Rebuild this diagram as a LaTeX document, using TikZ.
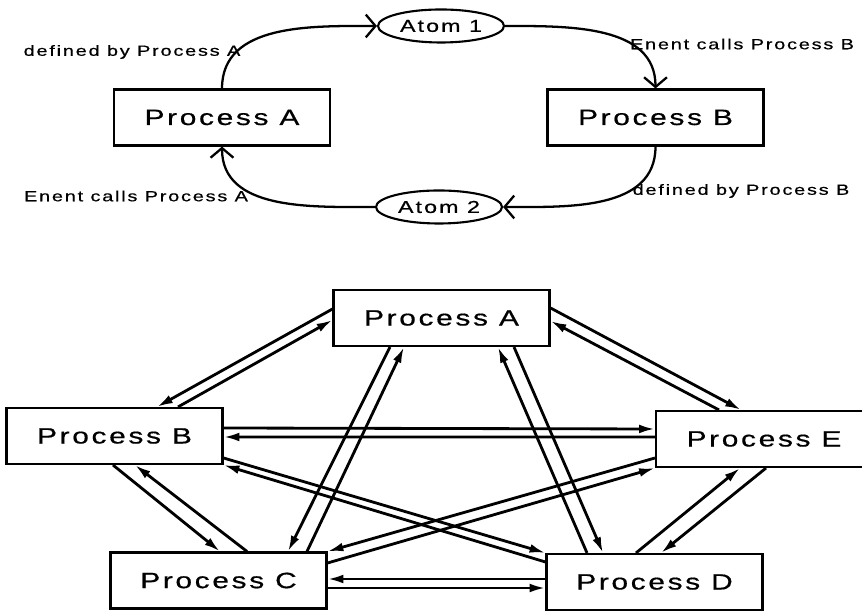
\documentclass[tikz,border=0pt]{standalone}
\usepackage{fontspec}
\newfontfamily\diagfont[FakeStretch=1.35,LetterSpace=12,FakeBold=0.6]{Liberation Sans}
\usetikzlibrary{arrows.meta,shapes.geometric}

\begin{document}
\begin{tikzpicture}[
	procbox/.style={draw, line width=1.2pt, minimum width=4.32cm, minimum height=1.12cm, font=\diagfont\fontsize{12.6}{14}\selectfont},
	atom/.style={draw, ellipse, line width=1.2pt, minimum width=2.52cm, minimum height=0.66cm, inner sep=0pt, font=\diagfont\fontsize{9.8}{11}\selectfont},
	lbl/.style={font=\diagfont\fontsize{8.4}{10}\selectfont},
	callarrow/.style={line width=1.3pt, -{Straight Barb[length=5.5pt,width=13pt]}},
	linkarrow/.style={line width=1.6pt, -{Latex[length=9pt,width=5pt]}}
	]
	\useasboundingbox (0,0) rectangle (17.24,12.22);
		%atoms + processes (top)
			\node[procbox] (tA) at (4.44,9.87) {Process A};
			\node[procbox] (tB) at (13.11,9.87) {Process B};
			\node[atom] (at1) at (8.82,11.70) {Atom 1};
			\node[atom] (at2) at (8.78,8.08) {Atom 2};
		%curves + labels
			\draw [callarrow] (tA.north) to[out=90,in=180] (at1.west);
			\draw [callarrow] (at1.east) to[out=0,in=90] (tB.north);
			\draw [callarrow] (tB.south) to[out=-90,in=0] (at2.east);
			\draw [callarrow] (at2.west) to[out=180,in=-90] (tA.south);
			\node[lbl] (defA) at (2.64,11.18) {defined by Process A};
			\node[lbl] (callA) at (2.72,8.30) {Enent calls Process A};
			\node[lbl] (callB) at (14.84,11.34) {Enent calls Process B};
			\node[lbl] (defB) at (14.82,8.40) {defined by Process B};
		%processes (bottom)
			\node[procbox] (pA) at (8.83,5.86) {Process A};
			\node[procbox] (pB) at (2.29,3.50) {Process B};
			\node[procbox] (pC) at (4.37,0.61) {Process C};
			\node[procbox] (pD) at (13.09,0.58) {Process D};
			\node[procbox] (pE) at (15.28,3.44) {Process E};
		%A-B
			\draw [linkarrow] ([yshift=0.18cm]pA.west) -- ([xshift=0.85cm]pB.north);
			\draw [linkarrow] ([xshift=1.27cm]pB.north) -- ([yshift=-0.04cm]pA.west);
		%A-C
			\draw [linkarrow] ([xshift=-1.03cm]pA.south) -- ([xshift=1.39cm]pC.north);
			\draw [linkarrow] ([xshift=1.77cm]pC.north) -- ([xshift=-0.75cm]pA.south);
		%A-D
			\draw [linkarrow] ([xshift=-1.35cm]pD.north) -- ([xshift=1.13cm]pA.south);
			\draw [linkarrow] ([xshift=1.45cm]pA.south) -- ([xshift=-1.03cm]pD.north);
		%A-E
			\draw [linkarrow] ([yshift=0.20cm]pA.east) -- ([xshift=-0.46cm]pE.north);
			\draw [linkarrow] ([xshift=-0.90cm]pE.north) -- ([yshift=-0.06cm]pA.east);
		%B-C
			\draw [linkarrow] ([xshift=-0.03cm]pB.south) -- ([xshift=0.03cm]pC.north);
			\draw [linkarrow] ([xshift=0.57cm]pC.north) -- ([xshift=0.41cm]pB.south);
		%B-E
			\draw [linkarrow] ([yshift=0.16cm]pB.east) -- ([yshift=0.20cm]pE.west);
			\draw [linkarrow] ([yshift=0.04cm]pE.west) -- ([yshift=-0.02cm]pB.east);
		%B-D
			\draw [linkarrow] ([yshift=-0.44cm]pB.east) -- (pD.north west);
			\draw [linkarrow] ([yshift=0.40cm]pD.west) -- (pB.south east);
		%C-D
			\draw [linkarrow] ([yshift=0.06cm]pD.west) -- ([yshift=0.03cm]pC.east);
			\draw [linkarrow] ([yshift=-0.15cm]pC.east) -- ([yshift=-0.12cm]pD.west);
		%C-E
			\draw [linkarrow] ([yshift=-0.38cm]pE.west) -- (pC.north east);
			\draw [linkarrow] ([yshift=0.35cm]pC.east) -- (pE.south west);
		%D-E
			\draw [linkarrow] ([xshift=-0.37cm]pD.north) -- ([xshift=-0.48cm]pE.south);
			\draw [linkarrow] ([xshift=0.04cm]pE.south) -- ([xshift=0.13cm]pD.north);
	\end{tikzpicture}
\end{document}
